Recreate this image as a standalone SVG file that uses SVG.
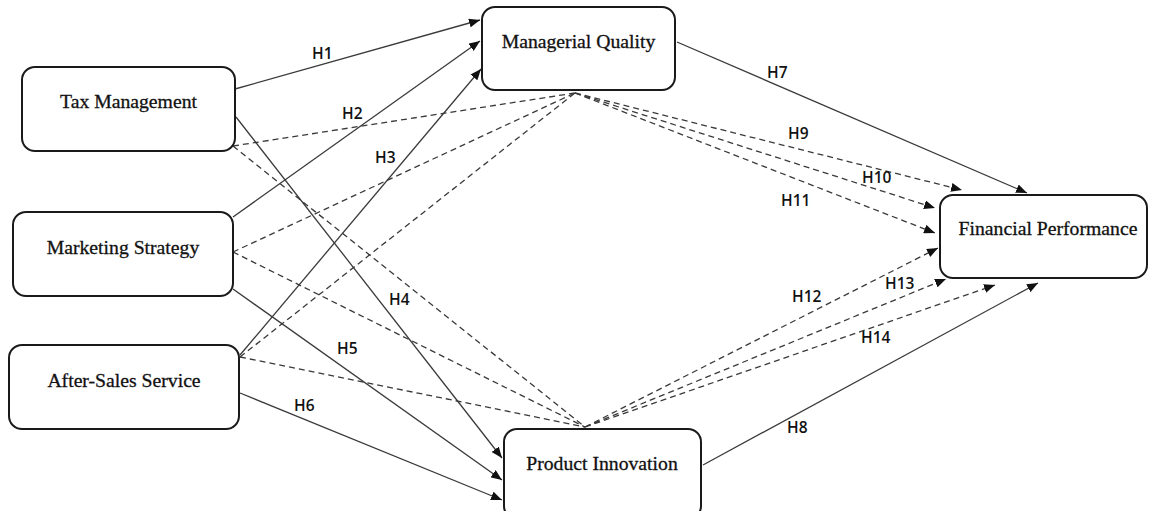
<svg xmlns="http://www.w3.org/2000/svg" width="1150" height="511" viewBox="0 0 1150 511">
<defs>
<marker id="arr" viewBox="0 0 11 9" refX="11" refY="4.5" markerWidth="11" markerHeight="9" markerUnits="userSpaceOnUse" orient="auto">
<path d="M0,0 L11,4.5 L0,9 z" fill="#111"/>
</marker>
<style>
.box{fill:#fff;stroke:#1a1a1a;stroke-width:2}
.nt{font-family:"Liberation Serif","Times New Roman",serif;font-size:19.7px;fill:#111;stroke:#111;stroke-width:0.3;text-anchor:middle}
.lb{font-family:"Open Sans","Liberation Sans",sans-serif;font-size:15.5px;font-weight:600;fill:#111}
.s{stroke:#3a3a3a;stroke-width:1.3;fill:none}
.d{stroke:#3a3a3a;stroke-width:1.3;fill:none;stroke-dasharray:6 4}
.a{marker-end:url(#arr)}
</style>
</defs>
<rect width="1150" height="511" fill="#fff"/>
<g id="connectors">
<line class="s a" x1="235" y1="89" x2="480" y2="20"/>
<line class="s a" x1="233" y1="217" x2="480" y2="41"/>
<line class="s a" x1="240" y1="355" x2="481" y2="69"/>
<line class="s a" x1="236" y1="117" x2="502" y2="458"/>
<line class="s a" x1="233" y1="289" x2="502" y2="480"/>
<line class="s a" x1="240" y1="393" x2="502" y2="500"/>
<line class="s a" x1="677" y1="42" x2="1027" y2="193"/>
<line class="s a" x1="703" y1="465" x2="1038" y2="283"/>
<line class="d" x1="233" y1="146" x2="575" y2="93"/>
<line class="d" x1="233" y1="252" x2="575" y2="93"/>
<line class="d" x1="240" y1="357" x2="575" y2="93"/>
<line class="d" x1="233" y1="146" x2="585" y2="427"/>
<line class="d" x1="233" y1="252" x2="585" y2="427"/>
<line class="d" x1="240" y1="357" x2="585" y2="427"/>
<line class="d a" x1="575" y1="93" x2="962" y2="190"/>
<line class="d a" x1="575" y1="93" x2="935" y2="208"/>
<line class="d a" x1="575" y1="93" x2="935" y2="233"/>
<line class="d a" x1="585" y1="427" x2="938" y2="248"/>
<line class="d a" x1="585" y1="427" x2="946" y2="279"/>
<line class="d a" x1="585" y1="427" x2="995" y2="285"/>
</g>
<g id="labels">
<text class="lb" x="312" y="59">H1</text>
<text class="lb" x="342" y="119">H2</text>
<text class="lb" x="375" y="163">H3</text>
<text class="lb" x="389" y="305">H4</text>
<text class="lb" x="337" y="354">H5</text>
<text class="lb" x="294" y="411">H6</text>
<text class="lb" x="767" y="78">H7</text>
<text class="lb" x="787" y="433">H8</text>
<text class="lb" x="788" y="139">H9</text>
<text class="lb" x="862" y="183">H10</text>
<text class="lb" x="781" y="206">H11</text>
<text class="lb" x="792" y="302">H12</text>
<text class="lb" x="885" y="289">H13</text>
<text class="lb" x="861" y="343">H14</text>
</g>
<g id="tax-management">
<rect class="box" x="22" y="67" width="213" height="84" rx="13"/>
<text class="nt" x="128.5" y="108">Tax Management</text>
</g>
<g id="marketing-strategy">
<rect class="box" x="13" y="212" width="220" height="84" rx="13"/>
<text class="nt" x="123" y="254">Marketing Strategy</text>
</g>
<g id="after-sales-service">
<rect class="box" x="9" y="345" width="230" height="84" rx="13"/>
<text class="nt" x="124" y="387">After-Sales Service</text>
</g>
<g id="managerial-quality">
<rect class="box" x="482" y="7" width="193" height="83" rx="13"/>
<text class="nt" x="578.5" y="48">Managerial Quality</text>
</g>
<g id="financial-performance">
<rect class="box" x="940" y="195" width="207" height="83" rx="13"/>
<text class="nt" x="1048" y="235">Financial Performance</text>
</g>
<g id="product-innovation">
<rect class="box" x="504" y="429" width="197" height="90" rx="13"/>
<text class="nt" x="602" y="470">Product Innovation</text>
</g>
</svg>
